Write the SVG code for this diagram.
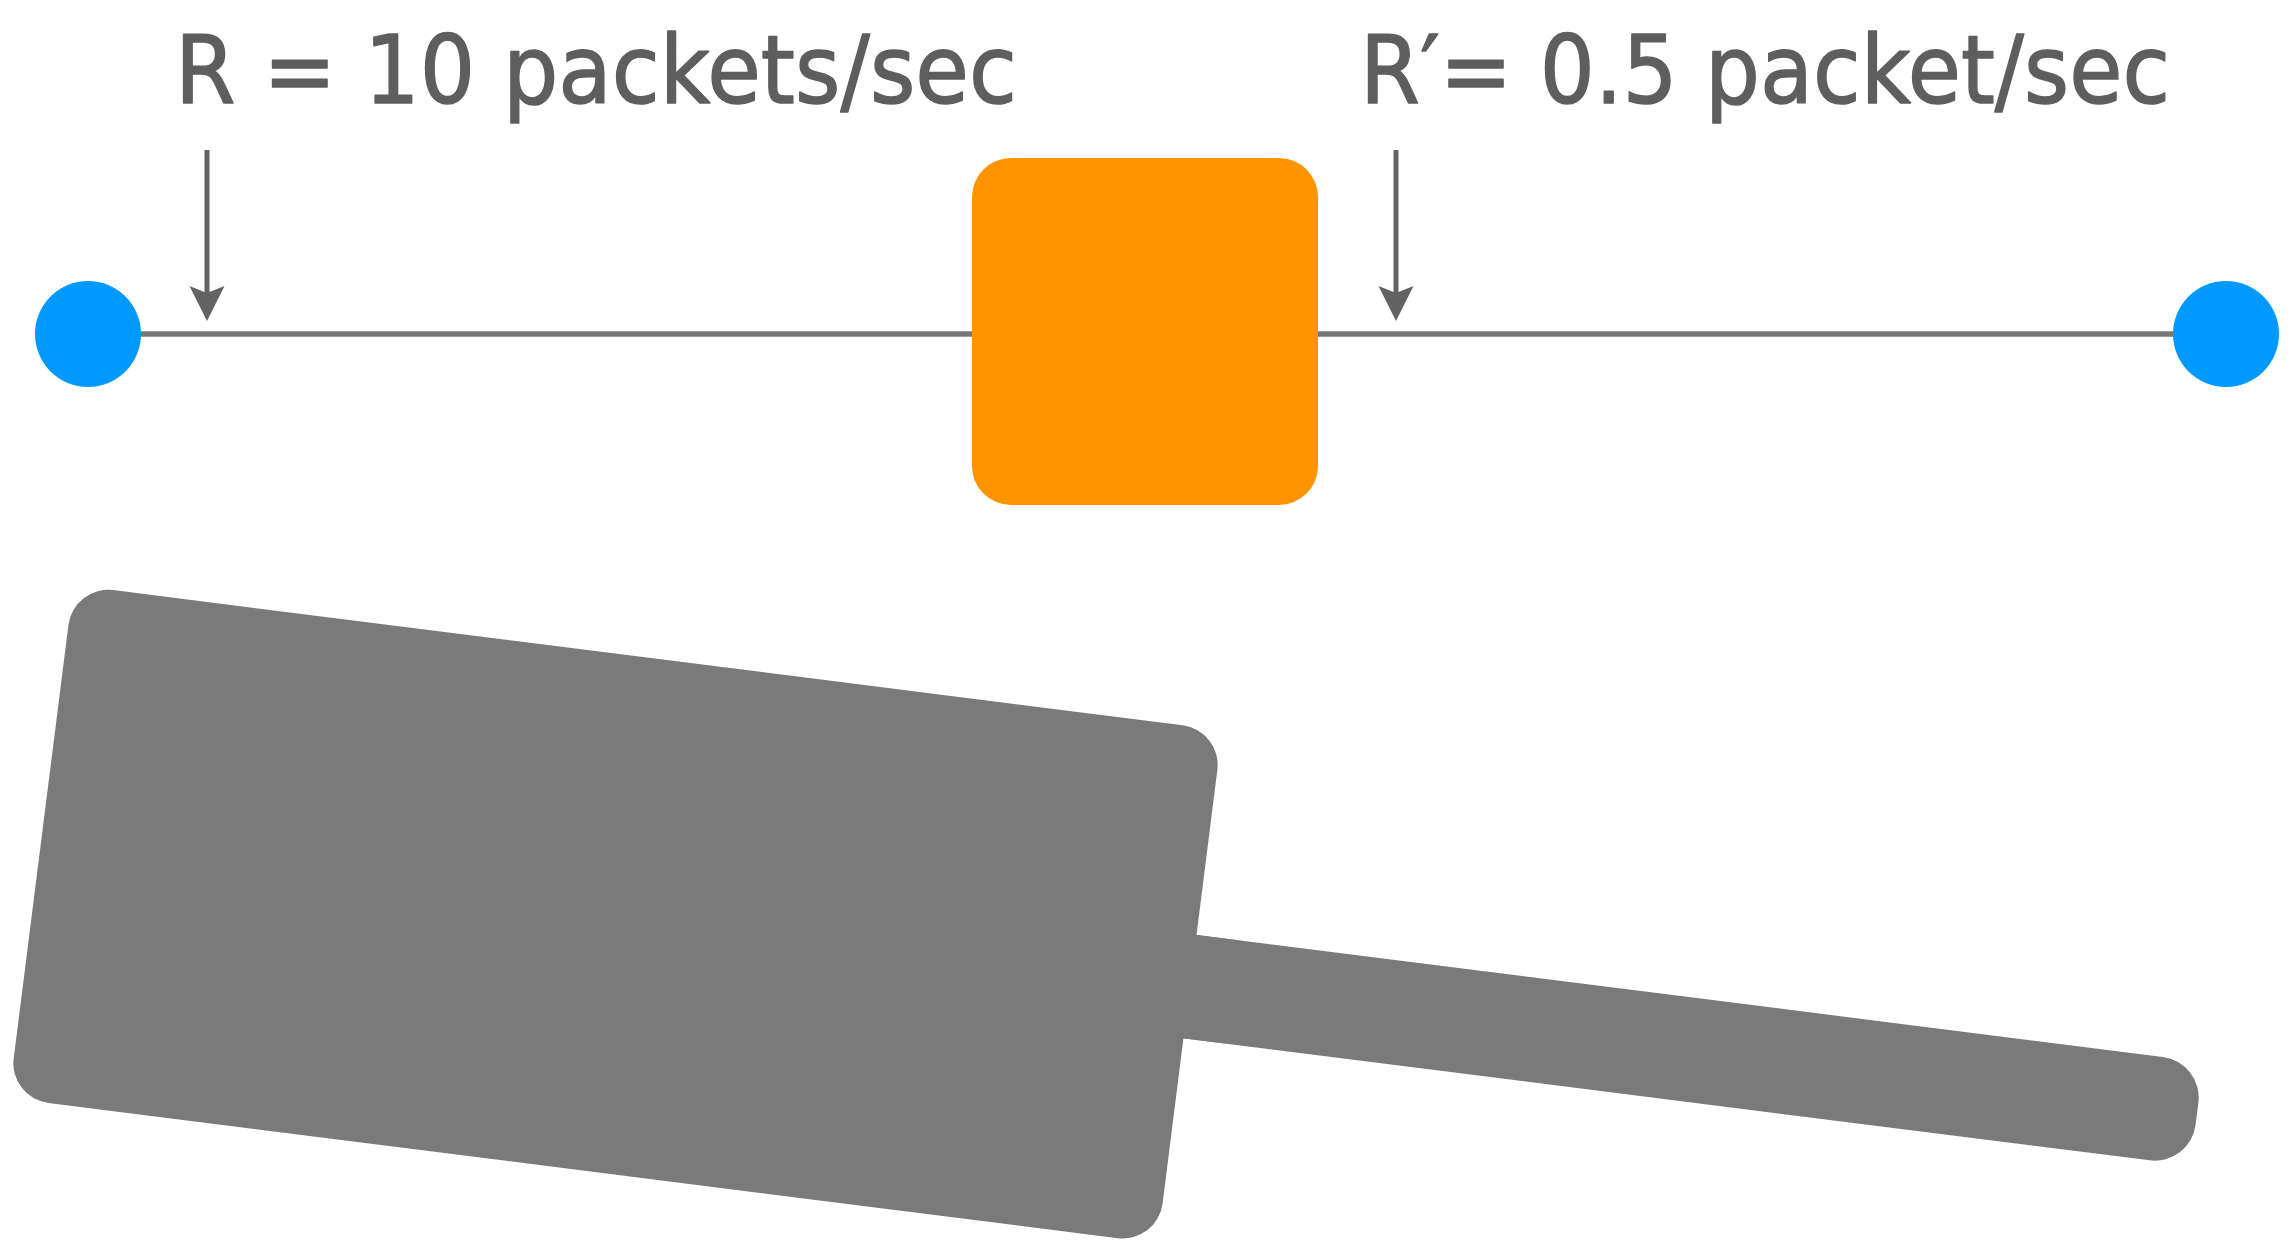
<svg xmlns="http://www.w3.org/2000/svg" width="2295" height="1251" viewBox="0 0 2295 1251">
  <style>
    .lbl { font-family: "DejaVu Sans", "Liberation Sans", sans-serif; font-size: 95px; fill: #5E5E5E; stroke: #5E5E5E; stroke-width: 1.5; stroke-linejoin: round; }
    .link { stroke: #777777; stroke-width: 5.5; fill: none; }
    .ptr { stroke: #636363; stroke-width: 5; fill: none; marker-end: url(#head); }
    .host { fill: #0099FF; }
    .box { fill: #FF9400; }
    .grey { fill: #7A7A7A; }
  </style>
  <defs>
    <marker id="head" markerUnits="userSpaceOnUse" markerWidth="40" markerHeight="40" refX="7" refY="0" orient="auto" viewBox="0 -20 40 40" overflow="visible">
      <path d="M0,-17.5 L35,0 L0,17.5 L7,0 Z" fill="#636363"/>
    </marker>
  </defs>

  <g id="connectors">
    <line class="link" x1="140" y1="334" x2="973" y2="334"/>
    <line class="link" x1="1317" y1="334" x2="2174" y2="334"/>
    <line class="ptr" x1="207" y1="150" x2="207" y2="293"/>
    <line class="ptr" x1="1396" y1="150" x2="1396" y2="293"/>
  </g>

  <g id="node-source">
    <circle class="host" cx="88" cy="334" r="53"/>
  </g>
  <g id="node-router">
    <rect class="box" x="972" y="158" width="346" height="347" rx="39" ry="39"/>
  </g>
  <g id="node-dest">
    <circle class="host" cx="2226" cy="334" r="53"/>
  </g>

  <g id="label-in">
    <text class="lbl" x="175" y="103" textLength="842" lengthAdjust="spacingAndGlyphs">R = 10 packets/sec</text>
  </g>
  <g id="label-out">
    <text class="lbl" x="1360" y="103" textLength="810" lengthAdjust="spacingAndGlyphs">R′= 0.5 packet/sec</text>
  </g>

  <g id="node-paddle" transform="translate(73.5 585.1) rotate(7.2)">
    <rect class="grey" x="0" y="0" width="1158" height="517" rx="40" ry="40"/>
    <rect class="grey" x="1100" y="206.3" width="1073" height="104.2" rx="41" ry="41"/>
    <rect class="grey" x="1100" y="206.3" width="100" height="104.2"/>
  </g>
</svg>
